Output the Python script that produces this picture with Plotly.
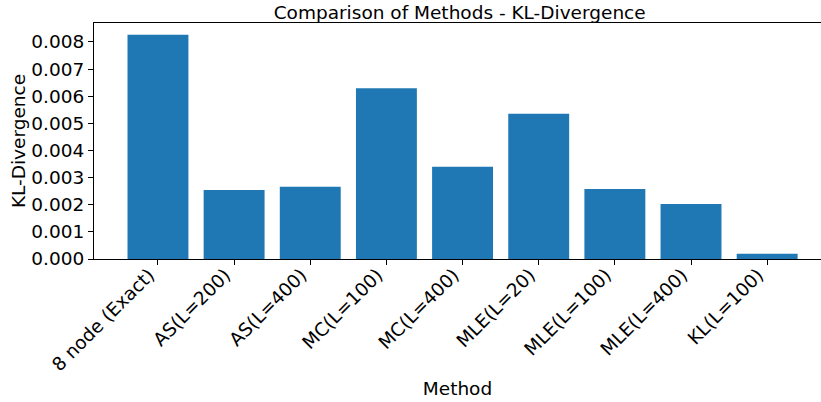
import plotly.graph_objects as go

methods = ["8 node (Exact)", "AS(L=200)", "AS(L=400)", "MC(L=100)", "MC(L=400)",
           "MLE(L=20)", "MLE(L=100)", "MLE(L=400)", "KL(L=100)"]
kl_values = [0.00827, 0.00254, 0.00266, 0.00629, 0.00340, 0.00535, 0.00258, 0.00203, 0.000195]

font_family = "DejaVu Sans"
fs = 18.5

fig = go.Figure(go.Bar(
    x=list(range(len(methods))),
    y=kl_values,
    width=0.8,
    marker=dict(color="#1f77b4", line=dict(width=0)),
))

fig.update_layout(
    width=821, height=402,
    margin=dict(l=94, r=0, t=23, b=143),
    paper_bgcolor="white", plot_bgcolor="white",
    font=dict(family=font_family, size=fs, color="black"),
    showlegend=False,
    title=dict(text="Comparison of Methods - KL-Divergence", x=0.503, xref="paper", xanchor="center",
               y=1, yref="paper", yanchor="bottom", pad=dict(b=4),
               font=dict(size=fs, family=font_family, color="black")),
)

fig.update_xaxes(
    range=[-0.84, 8.707],
    tickmode="array",
    tickvals=list(range(len(methods))),
    ticktext=methods,
    tickangle=-45,
    ticks="outside", ticklen=5, tickcolor="black",
    ticklabelstandoff=-8, ticklabelshift=-9,
    showline=True, linecolor="black", linewidth=1, mirror=True,
    showgrid=False, zeroline=False, automargin=False,
    title=dict(text="Method", standoff=7, font=dict(size=fs)),
    tickfont=dict(size=fs),
)
fig.update_yaxes(
    range=[0, 0.0087],
    dtick=0.001, tick0=0, tickformat=".3f",
    ticks="outside", ticklen=5, tickcolor="black",
    showline=True, linecolor="black", linewidth=1, mirror=False,
    showgrid=False, zeroline=False, automargin=False,
    title=dict(text="KL-Divergence", standoff=0, font=dict(size=fs)),
    tickfont=dict(size=fs),
)

fig.write_html("out.html", config={"displayModeBar": False},
               post_script="document.body.style.margin='0';")
